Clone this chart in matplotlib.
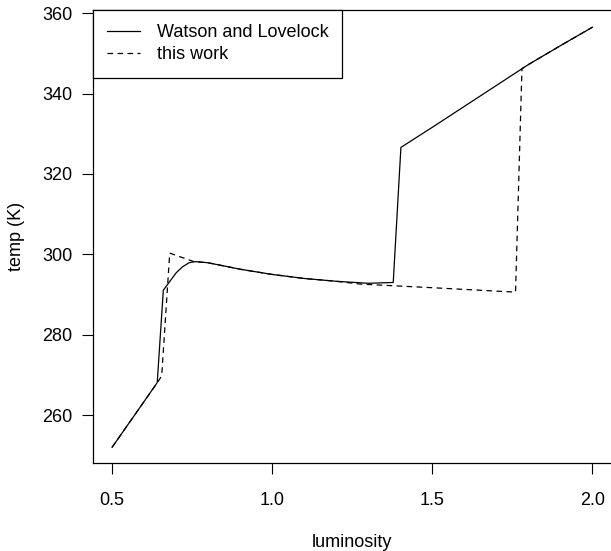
import matplotlib
matplotlib.use("Agg")
from matplotlib import pyplot as plt

plt.rcParams['font.family'] = ['Liberation Sans', 'DejaVu Sans']

# Watson and Lovelock curve
lum_wl = [0.50, 0.55, 0.60, 0.641, 0.660, 0.676, 0.70, 0.72, 0.74, 0.76, 0.80,
          0.85, 0.90, 1.00, 1.10, 1.20, 1.30, 1.378, 1.402, 1.50, 1.60, 1.70,
          1.80, 1.90, 2.00]
temp_wl = [252.0, 257.7, 263.4, 268.1, 291.1, 292.8, 295.4, 296.9, 297.9, 298.2,
           297.9, 297.1, 296.3, 295.0, 294.0, 293.3, 292.8, 293.0, 326.6, 331.6,
           336.8, 342.0, 347.2, 351.9, 356.5]

# this work
lum_tw = [0.50, 0.55, 0.60, 0.645, 0.655, 0.68, 0.755, 0.80, 0.85, 0.90, 1.00,
          1.10, 1.20, 1.275, 1.50, 1.76, 1.78, 1.80, 1.90, 2.00]
temp_tw = [252.0, 257.7, 263.4, 268.5, 269.8, 300.3, 298.2, 297.9, 297.1, 296.3,
           295.0, 294.0, 293.3, 292.6, 291.7, 290.6, 346.2, 347.2, 351.9, 356.5]

xticks = [0.5, 1.0, 1.5, 2.0]
yticks = [260, 280, 300, 320, 340, 360]

fs = 13

fig = plt.figure(figsize=(6.11, 5.51), dpi=100)
ax = fig.add_axes([0.152, 0.159, 0.849, 0.823])

ax.plot(lum_wl, temp_wl, color="black", lw=0.9, label="Watson and Lovelock")
ax.plot(lum_tw, temp_tw, color="black", lw=0.9, dashes=(4.5, 3.5), label="this work")

ax.set_xlim(0.44, 2.06)
ax.set_ylim(248.0, 360.8)
ax.set_xticks(xticks)
ax.set_xticklabels(["0.5", "1.0", "1.5", "2.0"])
ax.set_yticks(yticks)
ax.tick_params(labelsize=fs, length=7.9, width=0.8, direction="out")
ax.tick_params(axis="x", pad=12.5)
ax.tick_params(axis="y", pad=7)
for s in ax.spines.values():
    s.set_linewidth(0.9)

ax.set_xlabel("luminosity", fontsize=fs, labelpad=18)
ax.set_ylabel("temp (K)", fontsize=fs, labelpad=12)

leg = ax.legend(loc="upper left", borderaxespad=0, fancybox=False, framealpha=1,
                edgecolor="black", fontsize=fs, handlelength=1.85,
                handletextpad=0.9, borderpad=0.78, labelspacing=0.3)
leg.get_frame().set_linewidth(0.9)

fig.savefig("out.png", dpi=100)
